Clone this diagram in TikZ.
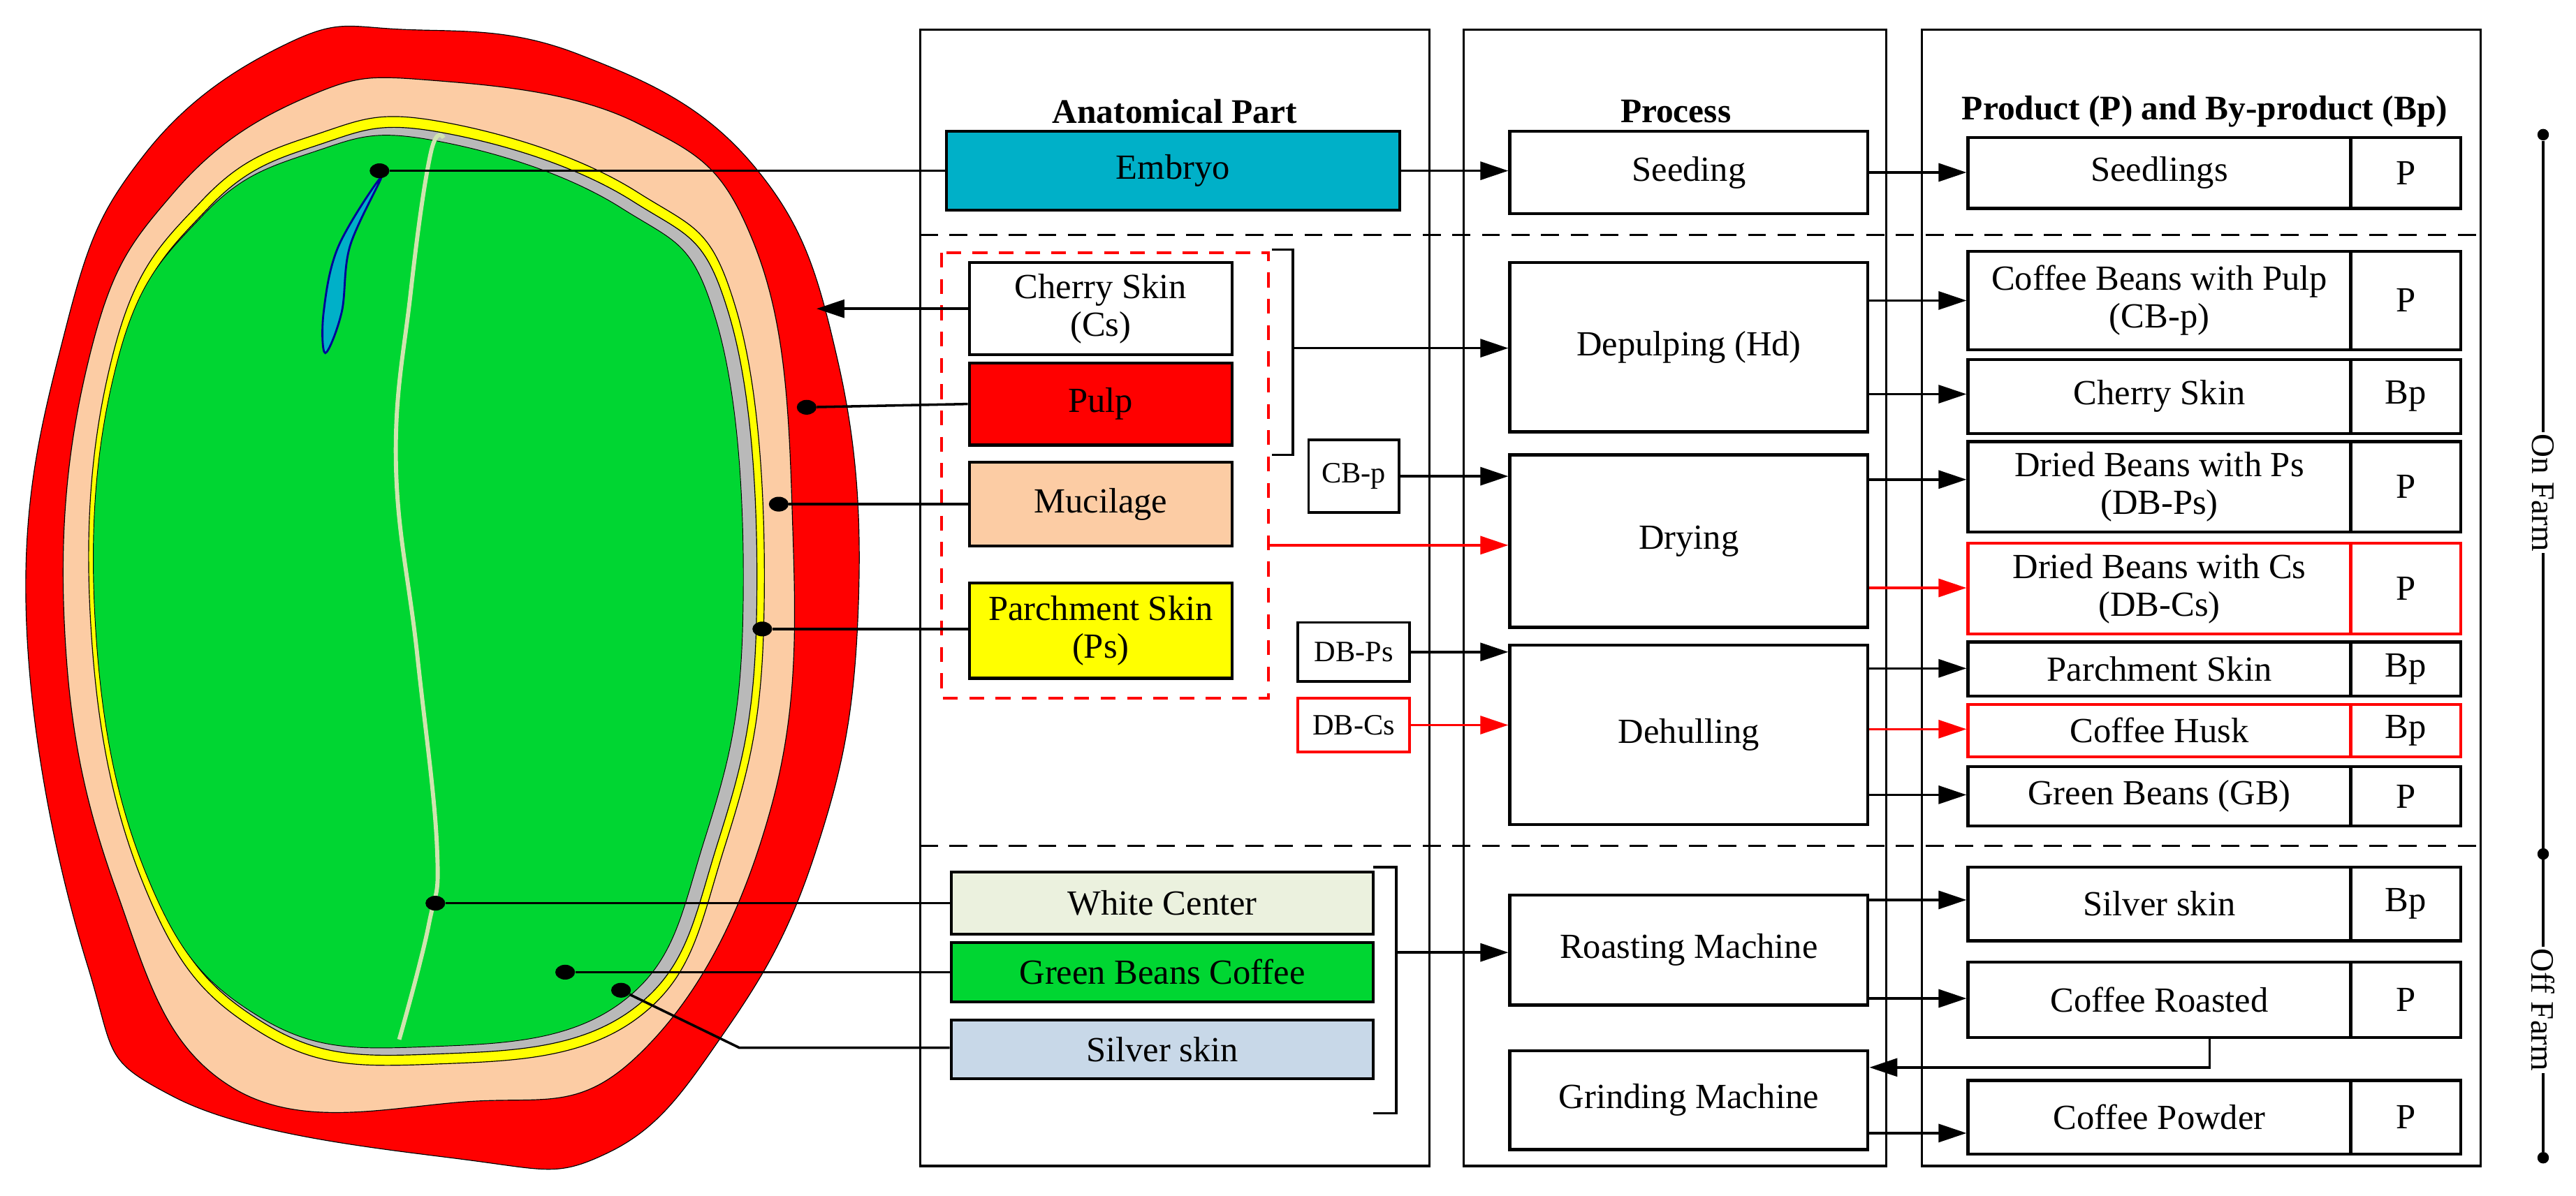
\documentclass[tikz,border=0pt]{standalone}
\usepackage{fontspec}
\setmainfont{Liberation Serif}
\usetikzlibrary{arrows.meta,shapes.geometric}
\definecolor{beanred}{RGB}{255,0,0}
\definecolor{peach}{RGB}{252,204,164}
\definecolor{yel}{RGB}{255,255,0}
\definecolor{gr}{RGB}{0,214,50}
\definecolor{teal}{RGB}{0,176,200}
\definecolor{wc}{RGB}{235,241,222}
\definecolor{ss}{RGB}{200,216,232}
\definecolor{cen}{RGB}{208,228,176}
\begin{document}
\begin{tikzpicture}[x=1pt,y=-1pt,
  box/.style={draw,line width=1.8pt,inner sep=0pt,align=center,font=\fontsize{21.5}{23}\selectfont},
  sbox/.style={box,font=\fontsize{18}{20}\selectfont,line width=1.6pt},
  col/.style={draw,line width=1.3pt},
  arr/.style={line width=1.5pt,-{Triangle[length=17pt,width=11pt]}},
  rarr/.style={arr,draw=red,fill=red},
  ln/.style={line width=1.5pt},
  dot/.style={ellipse,fill=black,inner sep=0pt,minimum width=12pt,minimum height=9pt},
  hd/.style={font=\bfseries\fontsize{21}{23}\selectfont}]
\useasboundingbox (0,0) rectangle (1568,728);
% ---- bean ----
\fill[beanred,draw=black,line width=0.5pt] plot[smooth cycle,tension=0.7] coordinates{(247,18)(352,33)(458,100)(510,220)(522,380)(496,520)(440,630)(370,702)(282,706)(106,668)(53,587)(16,376)(40,200)(88,94)(176,26)};
\fill[peach,draw=black,line width=0.5pt] plot[smooth cycle,tension=0.7] coordinates{(187,59)(264,49)(388,75)(458,146)(482,305)(469,493)(388,643)(282,671)(141,662)(70,540)(39,376)(56,211)(106,117)};
\fill[yel,draw=black,line width=0.5pt] plot[smooth cycle,tension=0.7] coordinates{(192,82)(268,74)(388,117)(448,188)(465,376)(441,516)(388,620)(264,648)(159,629)(88,540)(55,376)(70,211)(123,122)};
\begin{scope}[shift={(260,370)},scale=0.978,shift={(-260,-370)}]
\fill[gray!55,draw=black,line width=0.5pt] plot[smooth cycle,tension=0.7] coordinates{(192,82)(268,74)(388,117)(448,188)(465,376)(441,516)(388,620)(264,648)(159,629)(88,540)(55,376)(70,211)(123,122)};
\end{scope}
\begin{scope}[shift={(255,370)},scale=0.962,shift={(-260,-370)}]
\fill[gr,draw=black,line width=0.4pt] plot[smooth cycle,tension=0.7] coordinates{(192,82)(268,74)(388,117)(448,188)(465,376)(441,516)(388,620)(264,648)(159,629)(88,540)(55,376)(70,211)(123,122)};
\end{scope}
\draw[cen,line width=2.5pt] plot[smooth,tension=0.7] coordinates{(270,84)(262,94)(250,178)(241,282)(254,399)(266,516)(261,563)(243,633)};
\fill[teal,draw=blue!60!black,line width=1.2pt] plot[smooth cycle,tension=0.6] coordinates{(232,108)(213,150)(208,190)(198,215)(197,190)(206,150)};
% dots
\node[dot] (dE) at (231,104) {};
\node[dot] (dP) at (491,248) {};
\node[dot] (dM) at (474,307) {};
\node[dot] (dPs) at (464,383) {};
\node[dot] (dW) at (265,550) {};
\node[dot] (dG) at (344,592) {};
\node[dot] (dS) at (378,603) {};
\coordinate (tipCs) at (497,188);
% ---- columns ----
\draw[col] (560,18) rectangle (870,710);
\draw[col] (891,18) rectangle (1148,710);
\draw[col] (1170,18) rectangle (1510,710);
\draw[line width=1.5pt,dash pattern=on 11pt off 7pt] (560,143) -- (1510,143);
\draw[line width=1.5pt,dash pattern=on 11pt off 7pt] (560,515) -- (1510,515);
\node[hd] at (715,68) {Anatomical Part};
\node[hd] at (1020,68) {Process};
\node[hd] at (1342,68) {Product (P) and By-product (Bp)};
% ---- anatomical boxes ----
\node[box,fill=teal,minimum width=276pt,minimum height=48pt] (emb) at (714,104) {Embryo};
\node[box,fill=white,minimum width=160pt,minimum height=56pt] (cs) at (670,188) {Cherry Skin\\(Cs)};
\node[box,fill=beanred,minimum width=160pt,minimum height=50pt] (pulp) at (670,246) {Pulp};
\node[box,fill=peach,minimum width=160pt,minimum height=51pt] (muc) at (670,307) {Mucilage};
\node[box,fill=yel,minimum width=160pt,minimum height=58pt] (ps) at (670,384) {Parchment Skin\\(Ps)};
\draw[red,line width=1.6pt,dash pattern=on 9pt off 7pt] (573,154) rectangle (772,425);
\draw[ln] (774,152) -- (787,152) -- (787,277) -- (774,277);
\coordinate (br1) at (787,212);
\coordinate (br2) at (772,332);
\node[box,fill=wc,minimum width=257pt,minimum height=38pt] (wcn) at (707.5,550) {White Center};
\node[box,fill=gr,minimum width=257pt,minimum height=36pt] (gbc) at (707.5,592) {Green Beans Coffee};
\node[box,fill=ss,minimum width=257pt,minimum height=36pt] (ssk) at (707.5,639) {Silver skin};
\draw[ln] (836,528) -- (850,528) -- (850,678) -- (836,678);
\coordinate (br3) at (850,580);
% small boxes
\node[sbox,minimum width=55pt,minimum height=44pt] (cbp) at (824,290) {CB-p};
\node[sbox,minimum width=68pt,minimum height=36pt] (dbps) at (824,397) {DB-Ps};
\node[sbox,draw=red,minimum width=68pt,minimum height=33pt] (dbcs) at (824,441.5) {DB-Cs};
% ---- process ----
\node[box,minimum width=218pt,minimum height=50pt] (seed) at (1028,105) {Seeding};
\node[box,minimum width=218pt,minimum height=103pt] (dep) at (1028,211.5) {Depulping (Hd)};
\node[box,minimum width=218pt,minimum height=105pt] (dry) at (1028,329.5) {Drying};
\node[box,minimum width=218pt,minimum height=109pt] (deh) at (1028,447.5) {Dehulling};
\node[box,minimum width=218pt,minimum height=67pt] (roa) at (1028,578.5) {Roasting Machine};
\node[box,minimum width=218pt,minimum height=60pt] (gri) at (1028,670) {Grinding Machine};
% ---- products ----
\foreach \n/\t/\k/\ya/\yb/\c in {sdl/Seedlings/P/83/126/black, cbpp/{Coffee Beans with Pulp\\(CB-p)}/P/152/212/black, csp/Cherry Skin/Bp/218/263/black, dbpsp/{Dried Beans with Ps\\(DB-Ps)}/P/268/323/black, dbcsp/{Dried Beans with Cs\\(DB-Cs)}/P/330/385/red, psp/Parchment Skin/Bp/390/423/black, husk/Coffee Husk/Bp/428/460/red, gb/Green Beans (GB)/P/466/502/black, ssp/Silver skin/Bp/527/572/black, cr/Coffee Roasted/P/585/631/black, cpw/Coffee Powder/P/657/702/black}{
  \node[box,draw=\c,minimum width=233pt,minimum height={\yb-\ya},anchor=north west] (\n) at (1197,\ya) {\t};
  \node[box,draw=\c,minimum width=67pt,minimum height={\yb-\ya},anchor=north west] (\n P) at (1430,\ya) {\k};
}
% ---- connectors ----
\draw[ln] (dE) -- (emb.west);
\draw[arr] (cs.west) -- (tipCs);
\draw[ln] (dP) -- (pulp.west);
\draw[ln] (dM) -- (muc.west);
\draw[ln] (dPs) -- (ps.west|-dPs);
\draw[ln] (dW) -- (wcn.west|-dW);
\draw[ln] (dG) -- (gbc.west|-dG);
\draw[ln] (dS) -- (450,638) -- (ssk.west|-0,638);
\draw[arr] (emb.east) -- (seed.west|-emb.east);
\draw[arr] (seed.east) -- (sdl.west|-seed.east);
\draw[arr] (br1) -- (dep.west|-br1);
\draw[arr] (cbp.east) -- (dry.west|-cbp.east);
\draw[rarr] (br2) -- (dry.west|-br2);
\draw[arr] (dbps.east) -- (deh.west|-dbps.east);
\draw[rarr] (dbcs.east) -- (deh.west|-dbcs.east);
\draw[arr] (dep.east|-0,183) -- (cbpp.west|-0,183);
\draw[arr] (dep.east|-0,240) -- (csp.west|-0,240);
\draw[arr] (dry.east|-0,292) -- (dbpsp.west|-0,292);
\draw[rarr] (dry.east|-0,358) -- (dbcsp.west|-0,358);
\draw[arr] (deh.east|-0,407) -- (psp.west|-0,407);
\draw[rarr] (deh.east|-0,444) -- (husk.west|-0,444);
\draw[arr] (deh.east|-0,484) -- (gb.west|-0,484);
\draw[arr] (br3) -- (roa.west|-br3);
\draw[arr] (roa.east|-0,548) -- (ssp.west|-0,548);
\draw[arr] (roa.east|-0,608) -- (cr.west|-0,608);
\draw[arr] (1345,631) -- (1345,650) -- (gri.east|-0,650);
\draw[arr] (gri.east|-0,690) -- (cpw.west|-0,690);
% ---- farm axis ----
\node[circle,fill=black,inner sep=0pt,minimum size=7pt] (f1) at (1548,82) {};
\node[circle,fill=black,inner sep=0pt,minimum size=7pt] (f2) at (1548,520) {};
\node[circle,fill=black,inner sep=0pt,minimum size=7pt] (f3) at (1548,705) {};
\draw[ln] (f1) -- (f3);
\node[fill=white,rotate=-90,inner sep=1pt,font=\fontsize{20}{22}\selectfont] at (1548,300) {On Farm};
\node[fill=white,rotate=-90,inner sep=1pt,font=\fontsize{20}{22}\selectfont] at (1548,615) {Off Farm};
\end{tikzpicture}
\end{document}
